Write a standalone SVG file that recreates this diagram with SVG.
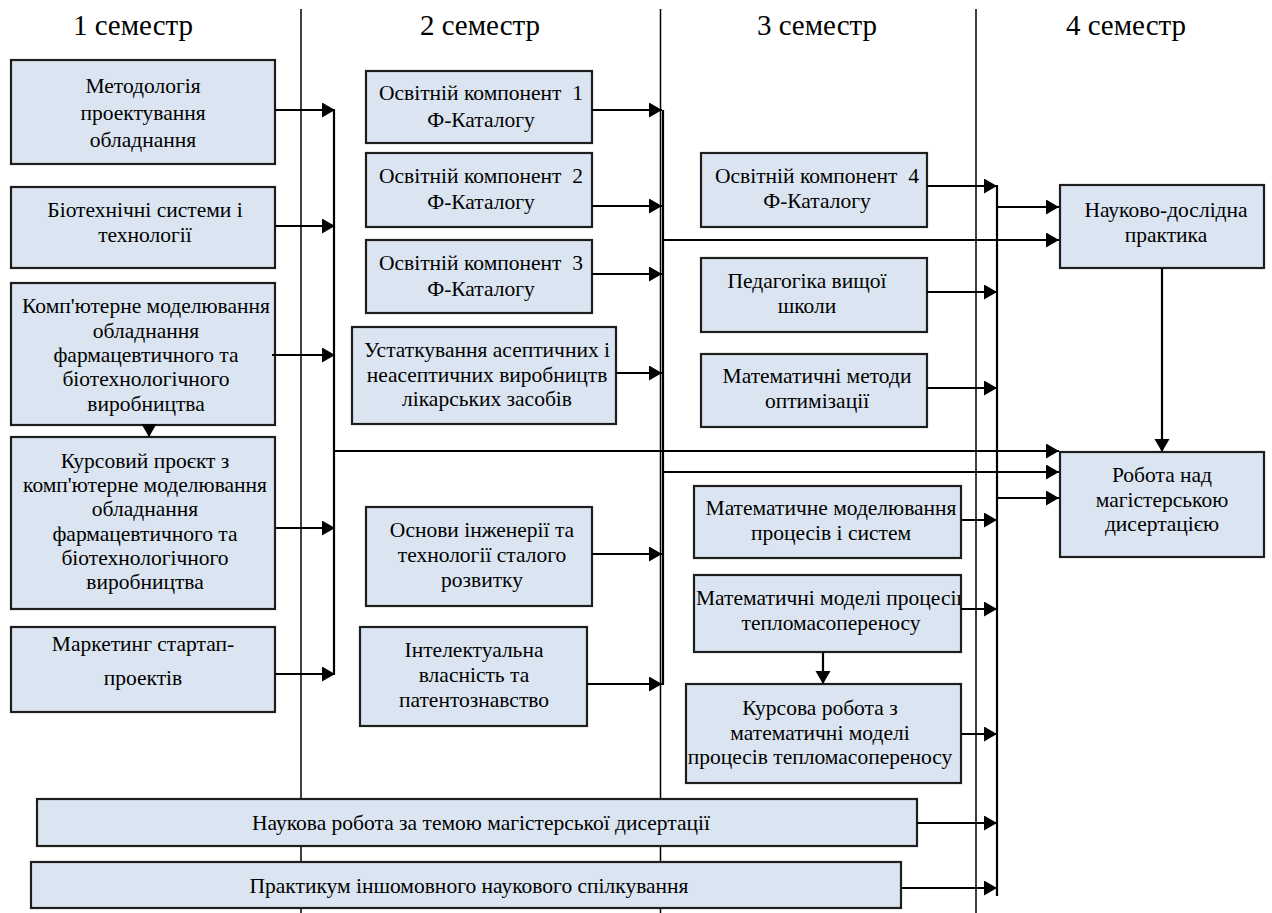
<svg xmlns="http://www.w3.org/2000/svg" width="1272" height="913" viewBox="0 0 1272 913">
<style>
.box{fill:#dbe5f1;stroke:#1e1e1e;stroke-width:2.2}
.t{font-family:"Liberation Serif","Times New Roman",serif;font-size:21.5px;fill:#000;text-anchor:middle}
.hdr{font-family:"Liberation Serif","Times New Roman",serif;font-size:29px;fill:#000;text-anchor:middle}
.div{stroke:#000;stroke-width:1.5;fill:none}
.conn{stroke:#000;stroke-width:2.2;fill:none}
.arr{marker-end:url(#ah)}
</style>
<defs>
<marker id="ah" markerUnits="userSpaceOnUse" markerWidth="14" markerHeight="16" refX="13" refY="7.5" orient="auto">
<path d="M0,0 L13,7.5 L0,15 z" fill="#000"/>
</marker>
<clipPath id="clipMM"><rect x="694" y="575" width="266" height="77"/></clipPath>
</defs>
<rect width="1272" height="913" fill="#fff"/>

<g id="headers">
<text class="hdr" x="133" y="35">1 семестр</text>
<text class="hdr" x="480" y="35">2 семестр</text>
<text class="hdr" x="817" y="35">3 семестр</text>
<text class="hdr" x="1126" y="35">4 семестр</text>
</g>

<g id="dividers">
<line class="div" x1="301" y1="9" x2="301" y2="913"/>
<line class="div" x1="660.5" y1="9" x2="660.5" y2="913"/>
<line class="div" x1="976" y1="9" x2="976" y2="913"/>
</g>

<g id="n1"><rect class="box" x="11" y="60" width="264" height="104"/>
<text class="t"><tspan x="143" y="93">Методологія</tspan><tspan x="143" y="120">проектування</tspan><tspan x="143" y="147">обладнання</tspan></text></g>
<g id="n2"><rect class="box" x="11" y="187" width="264" height="81"/>
<text class="t"><tspan x="145" y="217">Біотехнічні системи і</tspan><tspan x="145" y="242">технології</tspan></text></g>
<g id="n3"><rect class="box" x="11" y="283" width="264" height="142"/>
<text class="t"><tspan x="146" y="313">Комп'ютерне моделювання</tspan><tspan x="146" y="338">обладнання</tspan><tspan x="146" y="362">фармацевтичного та</tspan><tspan x="146" y="386">біотехнологічного</tspan><tspan x="146" y="411">виробництва</tspan></text></g>
<g id="n4"><rect class="box" x="11" y="437" width="264" height="172"/>
<text class="t"><tspan x="145" y="468">Курсовий проєкт з</tspan><tspan x="145" y="492">комп'ютерне моделювання</tspan><tspan x="145" y="516">обладнання</tspan><tspan x="145" y="541">фармацевтичного та</tspan><tspan x="145" y="565">біотехнологічного</tspan><tspan x="145" y="589">виробництва</tspan></text></g>
<g id="n5"><rect class="box" x="11" y="627" width="264" height="85"/>
<text class="t"><tspan x="143" y="651">Маркетинг стартап-</tspan><tspan x="143" y="685">проектів</tspan></text></g>

<g id="n6"><rect class="box" x="366" y="71" width="226" height="72"/>
<text class="t"><tspan x="481" y="100" xml:space="preserve">Освітній компонент  1</tspan><tspan x="481" y="127">Ф-Каталогу</tspan></text></g>
<g id="n7"><rect class="box" x="366" y="153" width="226" height="74"/>
<text class="t"><tspan x="481" y="183" xml:space="preserve">Освітній компонент  2</tspan><tspan x="481" y="209">Ф-Каталогу</tspan></text></g>
<g id="n8"><rect class="box" x="366" y="240" width="226" height="73"/>
<text class="t"><tspan x="481" y="270" xml:space="preserve">Освітній компонент  3</tspan><tspan x="481" y="296">Ф-Каталогу</tspan></text></g>
<g id="n9"><rect class="box" x="352" y="327" width="264" height="97"/>
<text class="t"><tspan x="487" y="357">Устаткування асептичних і</tspan><tspan x="487" y="382">неасептичних виробництв</tspan><tspan x="487" y="406">лікарських засобів</tspan></text></g>
<g id="n10"><rect class="box" x="366" y="507" width="226" height="99"/>
<text class="t"><tspan x="482" y="537">Основи інженерії та</tspan><tspan x="482" y="562">технології сталого</tspan><tspan x="482" y="587">розвитку</tspan></text></g>
<g id="n11"><rect class="box" x="360" y="627" width="227" height="99"/>
<text class="t"><tspan x="474" y="657">Інтелектуальна</tspan><tspan x="474" y="682">власність та</tspan><tspan x="474" y="707">патентознавство</tspan></text></g>

<g id="n12"><rect class="box" x="701" y="153" width="226" height="74"/>
<text class="t"><tspan x="817" y="183" xml:space="preserve">Освітній компонент  4</tspan><tspan x="817" y="208">Ф-Каталогу</tspan></text></g>
<g id="n13"><rect class="box" x="701" y="258" width="226" height="74"/>
<text class="t"><tspan x="807" y="288">Педагогіка вищої</tspan><tspan x="807" y="313">школи</tspan></text></g>
<g id="n14"><rect class="box" x="701" y="354" width="226" height="73"/>
<text class="t"><tspan x="817" y="383">Математичні методи</tspan><tspan x="817" y="408">оптимізації</tspan></text></g>
<g id="n15"><rect class="box" x="694" y="486" width="267" height="72"/>
<text class="t"><tspan x="831" y="515">Математичне моделювання</tspan><tspan x="831" y="540">процесів і систем</tspan></text></g>
<g id="n16"><rect class="box" x="694" y="575" width="267" height="77"/>
<text class="t" clip-path="url(#clipMM)"><tspan x="696" y="605" style="text-anchor:start">Математичні моделі процесів</tspan><tspan x="831" y="630">тепломасопереносу</tspan></text></g>
<g id="n17"><rect class="box" x="686" y="684" width="275" height="99"/>
<text class="t"><tspan x="820" y="715">Курсова робота з</tspan><tspan x="820" y="740">математичні моделі</tspan><tspan x="820" y="764">процесів тепломасопереносу</tspan></text></g>

<g id="n18"><rect class="box" x="1060" y="185" width="204" height="83"/>
<text class="t"><tspan x="1166" y="217">Науково-дослідна</tspan><tspan x="1166" y="242">практика</tspan></text></g>
<g id="n19"><rect class="box" x="1060" y="452" width="204" height="105"/>
<text class="t"><tspan x="1162" y="482">Робота над</tspan><tspan x="1162" y="507">магістерською</tspan><tspan x="1162" y="531">дисертацією</tspan></text></g>

<g id="n20"><rect class="box" x="37" y="799" width="880" height="47"/>
<text class="t" x="481" y="830">Наукова робота за темою магістерської дисертації</text></g>
<g id="n21"><rect class="box" x="31" y="862" width="870" height="46"/>
<text class="t" x="469" y="893">Практикум іншомовного наукового спілкування</text></g>

<g id="connectors">
<line class="conn" x1="334" y1="110" x2="334" y2="675"/>
<line class="conn" x1="663" y1="110" x2="663" y2="685"/>
<line class="conn" x1="997" y1="185" x2="997" y2="896"/>
<path class="conn arr" d="M275,110 H335"/>
<path class="conn arr" d="M275,226 H335"/>
<path class="conn arr" d="M272,355 H335"/>
<path class="conn arr" d="M275,528 H335"/>
<path class="conn arr" d="M275,674 H335"/>
<path class="conn arr" d="M149,425 V437"/>
<path class="conn arr" d="M592,110 H662"/>
<path class="conn arr" d="M592,206 H662"/>
<path class="conn arr" d="M592,274 H662"/>
<path class="conn arr" d="M616,373 H662"/>
<path class="conn arr" d="M592,554 H662"/>
<path class="conn arr" d="M587,684 H662"/>
<path class="conn arr" d="M927,186 H997"/>
<path class="conn arr" d="M927,292 H997"/>
<path class="conn arr" d="M927,388 H997"/>
<path class="conn arr" d="M961,520 H997"/>
<path class="conn arr" d="M961,609 H997"/>
<path class="conn arr" d="M961,734 H997"/>
<path class="conn arr" d="M917,823 H997"/>
<path class="conn arr" d="M901,888 H997"/>
<path class="conn arr" d="M823,652 V684"/>
<path class="conn arr" d="M334,451 H1059"/>
<path class="conn arr" d="M663,240 H1059"/>
<path class="conn arr" d="M663,472 H1059"/>
<path class="conn arr" d="M997,207 H1059"/>
<path class="conn arr" d="M997,498 H1059"/>
<path class="conn arr" d="M1162,268 V452"/>
</g>
</svg>
